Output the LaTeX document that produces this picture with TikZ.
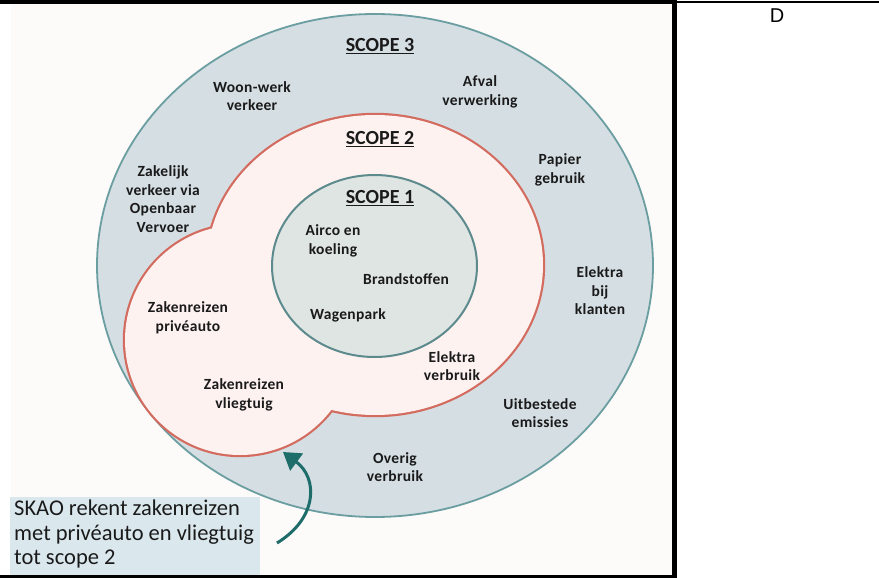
\documentclass[tikz,border=0pt]{standalone}
\usepackage{fontspec}
\setmainfont{Carlito}
\newfontfamily\arialfont{Liberation Sans}
\newfontfamily\lblfont[LetterSpace=2]{Carlito}
\usetikzlibrary{arrows.meta}
\definecolor{pagebg}{HTML}{FDFAFA}
\definecolor{sthreefill}{HTML}{D5DEE3}
\definecolor{sthreeline}{HTML}{6A9EA0}
\definecolor{stwofill}{HTML}{FDF2F0}
\definecolor{stwoline}{HTML}{D36B5F}
\definecolor{sonefill}{HTML}{DFE5E3}
\definecolor{soneline}{HTML}{5C8A8D}
\definecolor{boxfill}{HTML}{DAE8EE}
\definecolor{arrowcol}{HTML}{1E6D6B}
\definecolor{txt}{HTML}{1A1A1A}
\tikzset{
  lbl/.style={align=center, text=txt, font=\lblfont\fontsize{15.5}{18.5}\selectfont\bfseries, inner sep=0pt},
  scopelbl/.style={text=txt, font=\fontsize{20}{22}\selectfont\bfseries, inner sep=0pt},
}
\begin{document}
\begin{tikzpicture}[x=1pt,y=-1pt]
\useasboundingbox (0,0) rectangle (879,578);
\fill[white] (0,0) rectangle (879,578);
\fill[pagebg] (10.5,4) rectangle (672,575);
% scope 3
\draw[fill=sthreefill, draw=sthreeline, line width=1.8] (375,265.5) ellipse [x radius=278, y radius=251.5];
% scope 2 (union of ellipse and lobe)
\draw[draw=stwoline, line width=4.4] (375,265) ellipse [x radius=168, y radius=150];
\draw[draw=stwoline, line width=4.4] (240,340) circle [radius=115];
\fill[stwofill] (375,265) ellipse [x radius=168, y radius=150];
\fill[stwofill] (240,340) circle [radius=115];
% scope 1
\draw[fill=sonefill, draw=soneline, line width=2] (374.5,266) ellipse [x radius=102.5, y radius=91];
% scope titles
\node[scopelbl] (s3) at (380,46) {\underline{SCOPE 3}};
\node[scopelbl] (s2) at (380,139) {\underline{SCOPE 2}};
\node[scopelbl] (s1) at (380,198) {\underline{SCOPE 1}};
% labels
\node[lbl] (woon) at (252,96) {Woon-werk\\verkeer};
\node[lbl] (afval) at (480,92) {Afval\\verwerking};
\node[lbl] (papier) at (560,170) {Papier\\gebruik};
\node[lbl] (zakelijk) at (163,199) {Zakelijk\\verkeer via\\Openbaar\\Vervoer};
\node[lbl] (airco) at (333,241) {Airco en\\koeling};
\node[lbl] (brand) at (406,279) {Brandstoffen};
\node[lbl] (wagen) at (348,315) {Wagenpark};
\node[lbl] (prive) at (188,318) {Zakenreizen\\privéauto};
\node[lbl] (elektra) at (452,366) {Elektra\\verbruik};
\node[lbl] (vlieg) at (244,395) {Zakenreizen\\vliegtuig};
\node[lbl] (klanten) at (600,291) {Elektra\\bij\\klanten};
\node[lbl] (uitb) at (540,413) {Uitbestede\\emissies};
\node[lbl] (overig) at (395,467) {Overig\\verbruik};
% note box
\node[fill=boxfill, minimum width=250, minimum height=78, inner sep=0pt, anchor=north west] (box) at (10,497) {};
\node[anchor=north west, align=left, inner sep=0pt, text=txt, font=\fontsize{22.5}{24.5}\selectfont] (note) at (14,500) {SKAO rekent zakenreizen\\met privéauto en vliegtuig\\tot scope 2};
% arrow
\coordinate (atail) at (277,543);
\coordinate (atip) at (283,452);
\draw[arrowcol, line width=3, -{Triangle[length=17,width=21]}] (atail) .. controls (318,518) and (318,478) .. (atip);
% frame lines
\fill[black] (0,0) rectangle (672,4.3);
\fill[black] (672,0.7) rectangle (879,3.3);
\fill[black] (672,0) rectangle (677,578);
\fill[black] (0,575) rectangle (677,578);
\node[font=\arialfont\fontsize{20}{22}\selectfont, inner sep=0pt] (dlabel) at (777,16) {D};
\end{tikzpicture}
\end{document}
